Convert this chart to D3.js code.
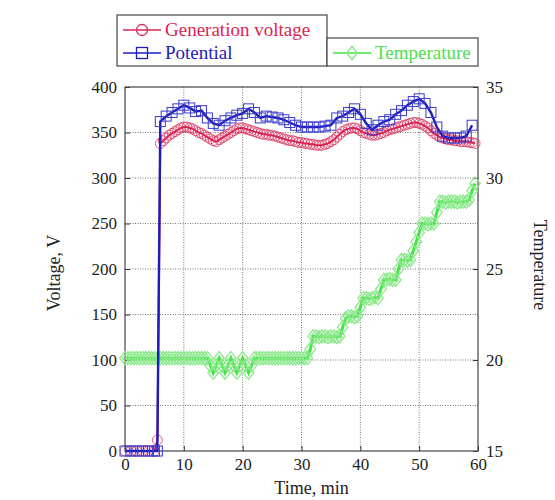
<!DOCTYPE html>
<html><head><meta charset="utf-8">
<script src="https://cdn.jsdelivr.net/npm/d3@7"></script>
<style>body{margin:0;background:#fff}svg{display:block}</style>
</head><body><div id="chart"></div>
<script>
// ---- data ----
const potentialTime = [0,1,2,3,4,5,5.5,6,7,8,9,10,11,12,13,14,15,16,17,18,19,20,21,22,23,24,25,26,27,28,29,30,31,32,33,34,35,36,37,38,39,40,41,42,43,44,45,46,47,48,49,50,51,52,53,54,55,56,57,58,59];
const potential = [0,0,0,0,0,0,0,362,368,372,376,380,377,373,374,366,360,358,363,366,369,371,376,372,366,368,367,366,364,361,358,356,356,356,356,357,358,366,368,372,376,370,360,353,358,362,364,370,374,380,384,387,382,372,356,346,344,344,344,346,358];

const genTime = [0,1,2,3,4,5,5.5,6,6.5,7,7.5,8,8.5,9,9.5,10,10.5,11,11.5,12,12.5,13,13.5,14,14.5,15,15.5,16,16.5,17,17.5,18,18.5,19,19.5,20,20.5,21,21.5,22,22.5,23,23.5,24,24.5,25,25.5,26,26.5,27,27.5,28,28.5,29,29.5,30,30.5,31,31.5,32,32.5,33,33.5,34,34.5,35,35.5,36,36.5,37,37.5,38,38.5,39,39.5,40,40.5,41,41.5,42,42.5,43,43.5,44,44.5,45,45.5,46,46.5,47,47.5,48,48.5,49,49.5,50,50.5,51,51.5,52,52.5,53,53.5,54,54.5,55,55.5,56,56.5,57,57.5,58,58.5,59,59.5];
const generation = [0,0,0,0,0,0,12,338,341,344,347,349,351,353,355,356,356,355,354,352,350,349,347,345,343,341,340,342,344,346,348,350,352,354,355,355,354,353,352,351,350,349,348,348,347,347,346,345,344,343,342,341,341,340,339,339,338,338,337,337,336,336,336,337,338,340,342,345,348,351,353,354,355,355,354,352,350,349,348,347,347,348,349,350,352,353,354,355,356,357,358,359,360,361,361,360,359,357,355,352,349,347,345,344,343,342,342,341,341,340,340,340,339,339,338];

const tempTime = [0,0.5,1,1.5,2,2.5,3,3.5,4,4.5,5,5.5,6,6.5,7,7.5,8,8.5,9,9.5,10,10.5,11,11.5,12,12.5,13,13.5,14,14.5,15,15.5,16,16.5,17,17.5,18,18.5,19,19.5,20,20.5,21,21.5,22,22.5,23,23.5,24,24.5,25,25.5,26,26.5,27,27.5,28,28.5,29,29.5,30,30.5,31,31.5,32,32.5,33,33.5,34,34.5,35,35.5,36,36.5,37,37.5,38,38.5,39,39.5,40,40.5,41,41.5,42,42.5,43,43.5,44,44.5,45,45.5,46,46.5,47,47.5,48,48.5,49,49.5,50,50.5,51,51.5,52,52.5,53,53.5,54,54.5,55,55.5,56,56.5,57,57.5,58,58.5,59,59.5];
const temperature = [20.1,20.1,20.1,20.1,20.1,20.1,20.1,20.1,20.1,20.1,20.1,20.1,20.1,20.1,20.1,20.1,20.1,20.1,20.1,20.1,20.1,20.1,20.1,20.1,20.1,20.1,20.1,20.1,20.1,
 19.7,19.3,19.7,20.1,19.7,19.3,19.7,20.1,19.7,19.3,19.7,20.1,19.7,19.3,19.7,20.1,
 20.1,20.1,20.1,20.1,20.1,20.1,20.1,20.1,20.1,20.1,20.1,20.1,20.1,20.1,20.1,20.1,20.1,20.1,
 20.6,21.3,21.3,21.25,21.3,21.3,21.25,21.3,21.3,21.25,21.3,
 21.8,22.3,22.4,22.4,22.35,22.4,22.9,23.4,23.4,23.35,23.4,23.45,23.4,23.9,24.4,24.4,24.45,24.4,24.4,25.0,25.5,25.5,25.45,25.5,26.0,26.5,27.0,27.5,27.5,27.45,27.5,27.5,28.1,28.7,28.7,28.65,28.7,28.7,28.7,28.65,28.7,28.7,28.7,28.8,29.3,29.7];

const xTicks = [0,10,20,30,40,50,60];
const yTicks = [0,50,100,150,200,250,300,350,400];
const tTicks = [15,20,25,30,35];

// ---- layout ----
const W = 555, H = 500;
const L = 125, R = 478, T = 87, B = 451;
const font = "'Liberation Serif','Times New Roman',serif";
const cRed = "#dc2454", cBlue = "#1c1cc0", cGreen = "#3ee83e", cGreenM = "#8be88b";

const svg = d3.select("#chart").append("svg").attr("width", W).attr("height", H)
  .style("font-family", font);

const x = d3.scaleLinear().domain([0,60]).range([L,R]);
const y = d3.scaleLinear().domain([0,400]).range([B,T]);
const yT = d3.scaleLinear().domain([15,35]).range([B,T]);

// grid
const grid = svg.append("g").attr("stroke","#777").attr("stroke-width",1).attr("stroke-dasharray","1,1.5");
grid.selectAll("line.gx").data(xTicks.slice(1,-1)).join("line")
  .attr("x1",d=>x(d)).attr("x2",d=>x(d)).attr("y1",T).attr("y2",B);
grid.selectAll("line.gy").data(yTicks.slice(1,-1)).join("line")
  .attr("x1",L).attr("x2",R).attr("y1",d=>y(d)).attr("y2",d=>y(d));

// axes
const axB = svg.append("g").attr("transform",`translate(0,${B})`)
  .call(d3.axisBottom(x).tickValues(xTicks).tickSizeInner(-5).tickSizeOuter(0).tickPadding(7));
const axL = svg.append("g").attr("transform",`translate(${L},0)`)
  .call(d3.axisLeft(y).tickValues(yTicks).tickSizeInner(-5).tickSizeOuter(0).tickPadding(8));
const axR = svg.append("g").attr("transform",`translate(${R},0)`)
  .call(d3.axisRight(yT).tickValues(tTicks).tickSizeInner(-5).tickSizeOuter(0).tickPadding(8));
[axB,axL,axR].forEach(a=>{
  a.select(".domain").remove();
  a.selectAll("text").attr("font-family",font).attr("font-size",17).attr("fill","#222");
  a.selectAll("line").attr("stroke","#333");
});

// frame
svg.append("rect").attr("x",L).attr("y",T).attr("width",R-L).attr("height",B-T)
  .attr("fill","none").attr("stroke","#444").attr("stroke-width",1.2);

// temperature series
const tData = tempTime.map((t,i)=>({t, v:temperature[i]}));
svg.append("path").datum(tData).attr("fill","none").attr("stroke",cGreen).attr("stroke-width",3)
  .attr("d", d3.line().x(d=>x(d.t)).y(d=>yT(d.v)));
const diamond = d3.symbol().type(d3.symbolDiamond).size(50);
svg.append("g").selectAll("path").data(tData).join("path")
  .attr("transform",d=>`translate(${x(d.t)},${yT(d.v)}) scale(1.4,1)`)
  .attr("d",diamond).attr("fill","none").attr("stroke",cGreenM).attr("stroke-width",1);

// generation voltage
const gData = genTime.map((t,i)=>({t, v:generation[i]}));
svg.append("path").datum(gData).attr("fill","none").attr("stroke",cRed).attr("stroke-width",2)
  .attr("d", d3.line().x(d=>x(d.t)).y(d=>y(d.v)));
svg.append("g").selectAll("circle").data(gData).join("circle")
  .attr("cx",d=>x(d.t)).attr("cy",d=>y(d.v)).attr("r",5)
  .attr("fill","none").attr("stroke",cRed).attr("stroke-width",0.9).attr("stroke-opacity",0.8);

// potential
const pData = potentialTime.map((t,i)=>({t, v:potential[i]}));
svg.append("path").datum(pData).attr("fill","none").attr("stroke",cBlue).attr("stroke-width",2.4)
  .attr("d", d3.line().x(d=>x(d.t)).y(d=>y(d.v)));
svg.append("g").selectAll("rect").data(pData).join("rect")
  .attr("x",d=>x(d.t)-5).attr("y",d=>y(d.v)-5).attr("width",10).attr("height",10)
  .attr("fill","none").attr("stroke","#3a3acc").attr("stroke-width",1);

// axis titles
svg.append("text").attr("transform",`translate(60,${(T+B)/2+4}) rotate(-90)`)
  .attr("text-anchor","middle").attr("font-size",18).attr("fill","#222").text("Voltage,  V");
svg.append("text").attr("transform",`translate(534,${(T+B)/2-4}) rotate(90)`)
  .attr("text-anchor","middle").attr("font-size",18).attr("fill","#222").text("Temperature");
svg.append("text").attr("x",(L+R)/2+10).attr("y",494)
  .attr("text-anchor","middle").attr("font-size",18).attr("fill","#222").text("Time, min");

// legends
const leg1 = svg.append("g");
leg1.append("rect").attr("x",117).attr("y",15).attr("width",210).attr("height",51)
  .attr("fill","#fff").attr("stroke","#444").attr("stroke-width",1.2);
const legItems = [
  {label:"Generation voltage", color:cRed, y:30, mark:"circle"},
  {label:"Potential", color:cBlue, y:53, mark:"square"}
];
legItems.forEach(it=>{
  leg1.append("line").attr("x1",123).attr("x2",161).attr("y1",it.y).attr("y2",it.y)
    .attr("stroke",it.color).attr("stroke-width",1.5);
  if(it.mark==="circle") leg1.append("circle").attr("cx",142).attr("cy",it.y).attr("r",5.5)
    .attr("fill","none").attr("stroke",it.color).attr("stroke-width",1.3);
  else leg1.append("rect").attr("x",136.5).attr("y",it.y-5.5).attr("width",11).attr("height",11)
    .attr("fill","none").attr("stroke",it.color).attr("stroke-width",1.3);
  leg1.append("text").attr("x",165).attr("y",it.y+6).attr("font-size",19).attr("fill",it.color).text(it.label);
});
const leg2 = svg.append("g");
leg2.append("rect").attr("x",327).attr("y",38).attr("width",151).attr("height",28)
  .attr("fill","#fff").attr("stroke","#444").attr("stroke-width",1.2);
leg2.append("line").attr("x1",333).attr("x2",371).attr("y1",53).attr("y2",53)
  .attr("stroke",cGreen).attr("stroke-width",1.5);
leg2.append("path").attr("d",diamond).attr("transform","translate(352,53) scale(1.4,1)")
  .attr("fill","none").attr("stroke",cGreenM).attr("stroke-width",1.2);
leg2.append("text").attr("x",375).attr("y",59).attr("font-size",19).attr("fill","#4ee04e").text("Temperature");
</script>
</body></html>
